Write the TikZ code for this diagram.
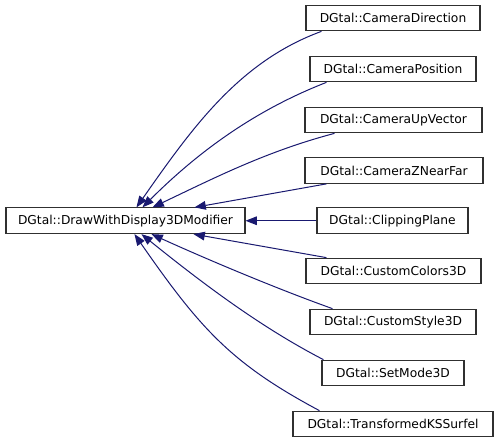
\documentclass[tikz,border=0pt]{standalone}
\usepackage{fontspec}
\setmainfont{DejaVu Sans}
\usetikzlibrary{arrows.meta,calc}
\definecolor{edgeblue}{HTML}{191970}
\definecolor{boxline}{HTML}{303030}
\begin{document}
\begin{tikzpicture}[x=0.75pt,y=-0.75pt,
  box/.style={draw=boxline,line width=0.8pt,fill=white,inner sep=0pt,
    minimum height=19.25pt,font=\fontsize{9.2}{11}\selectfont},
  edge/.style={draw=edgeblue,line width=0.75pt,
    {Triangle[length=8.5pt,width=6.5pt]}-}]
\useasboundingbox (0,0) rectangle (499,443);
\fill[white] (0,0) rectangle (499,443);

\node[box,minimum width=179.25pt] (main) at (125.5,220.75) {DGtal::DrawWithDisplay3DModifier};

\node[box,minimum width=130.5pt]  (cd)   at (393,18)    {DGtal::CameraDirection};
\node[box,minimum width=124.5pt]  (cp)   at (393,69)    {DGtal::CameraPosition};
\node[box,minimum width=132.75pt] (cu)   at (393.5,120) {DGtal::CameraUpVector};
\node[box,minimum width=133.5pt]  (cz)   at (394,170.5) {DGtal::CameraZNearFar};
\node[box,minimum width=113.25pt] (clip) at (392.5,220.75) {DGtal::ClippingPlane};
\node[box,minimum width=131.25pt] (cc)   at (393.5,271) {DGtal::CustomColors3D};
\node[box,minimum width=124.5pt]  (cs)   at (393,322)   {DGtal::CustomStyle3D};
\node[box,minimum width=106.5pt]  (sm)   at (393,373)   {DGtal::SetMode3D};
\node[box,minimum width=150pt]    (tk)   at (393,424)   {DGtal::TransformedKSSurfel};

% top edges
\draw[edge] ($(main.north west)+(131,0)$) .. controls +(56,-80) and +(-82,30) .. ($(cd.south west)+(16,0)$);
\draw[edge] ($(main.north west)+(137,0)$) .. controls +(55,-55) and +(-72,28) .. ($(cp.south west)+(17,0)$);
\draw[edge] ($(main.north west)+(147,0)$) .. controls +(63,-30) and +(-68,18) .. ($(cu.south west)+(30,0)$);
\draw[edge] ($(main.north west)+(189,0)$) -- ($(cz.south west)+(22,0)$);
% middle
\draw[edge] (main.east) -- (clip.west);
% bottom edges
\draw[edge] ($(main.south west)+(188,0)$) -- ($(cc.north west)+(21,0)$);
\draw[edge] ($(main.south west)+(146,0)$) .. controls +(55,25) and +(-56,-20) .. ($(cs.north west)+(23,0)$);
\draw[edge] ($(main.south west)+(136,0)$) .. controls +(62,50) and +(-62,-32) .. ($(sm.north west)+(2,0)$);
\draw[edge] ($(main.south west)+(129,0)$) .. controls +(66,95) and +(-88,-47) .. ($(tk.north west)+(27,0)$);
\end{tikzpicture}
\end{document}
